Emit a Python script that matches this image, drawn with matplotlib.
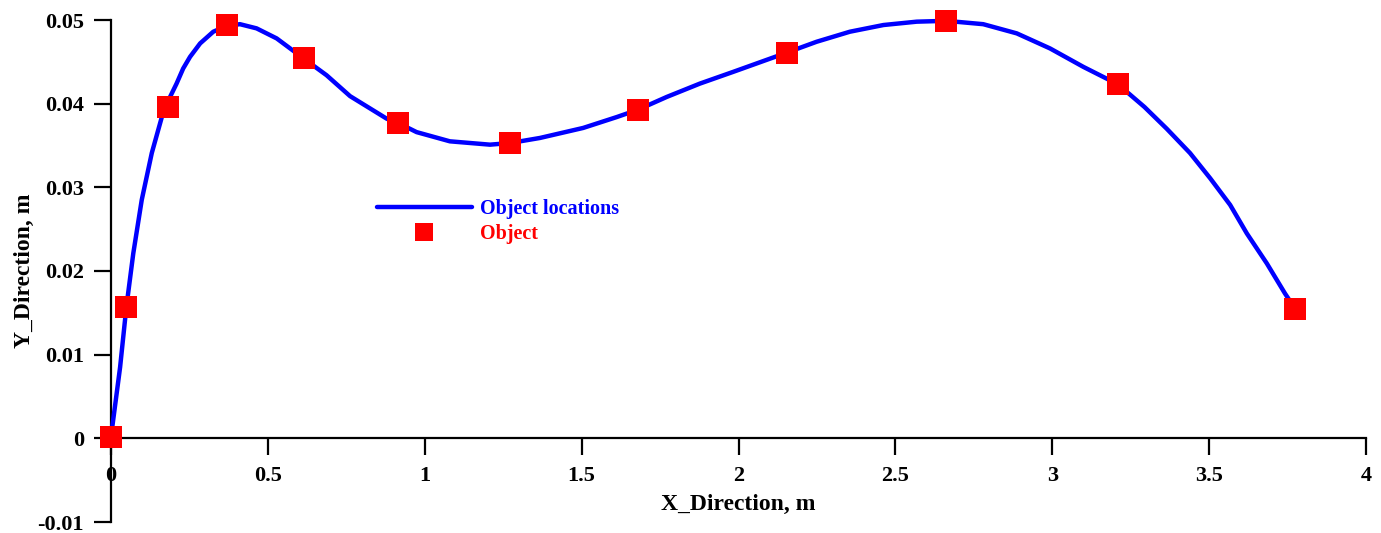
import matplotlib
matplotlib.use("Agg")
import matplotlib.pyplot as plt

# Object positions (markers)
obj_x = [0.0, 0.049, 0.183, 0.370, 0.614, 0.915, 1.273, 1.681, 2.154, 2.662, 3.210, 3.774]
obj_y = [0.0002, 0.0157, 0.0396, 0.0494, 0.0454, 0.0377, 0.0353, 0.0393, 0.0461, 0.0499, 0.0423, 0.0155]

# Path of object locations (curve)
path_x = [0.000, 0.029, 0.049, 0.071, 0.098, 0.130, 0.162, 0.183, 0.209, 0.230, 0.252, 0.284,
          0.326, 0.369, 0.411, 0.464, 0.528, 0.614, 0.687, 0.762, 0.879, 0.915, 0.974, 1.080,
          1.208, 1.273, 1.367, 1.505, 1.612, 1.681, 1.771, 1.877, 1.983, 2.154, 2.249,
          2.355, 2.462, 2.568, 2.662, 2.780, 2.887, 2.993, 3.099, 3.210, 3.294, 3.365,
          3.439, 3.503, 3.567, 3.620, 3.684, 3.742, 3.774]
path_y = [0.0002, 0.0085, 0.0157, 0.0221, 0.0285, 0.0341, 0.0384, 0.0404, 0.0424, 0.0442, 0.0456, 0.0472,
          0.0486, 0.0493, 0.0495, 0.0490, 0.0478, 0.0454, 0.0434, 0.0409, 0.0382, 0.0377, 0.0366, 0.0355,
          0.0351, 0.0353, 0.0359, 0.0371, 0.0384, 0.0393, 0.0408, 0.0424, 0.0438, 0.0461, 0.0474,
          0.0486, 0.0494, 0.0498, 0.0499, 0.0495, 0.0484, 0.0466, 0.0444, 0.0423, 0.0396, 0.0370,
          0.0341, 0.0311, 0.0279, 0.0245, 0.0209, 0.0173, 0.0155]

x_ticks = [0, 0.5, 1, 1.5, 2, 2.5, 3, 3.5, 4]
x_tick_labels = ["0", "0.5", "1", "1.5", "2", "2.5", "3", "3.5", "4"]
y_ticks = [-0.01, 0, 0.01, 0.02, 0.03, 0.04, 0.05]
y_tick_labels = ["-0.01", "0", "0.01", "0.02", "0.03", "0.04", "0.05"]

plt.rcParams['font.family'] = ['Liberation Serif', 'DejaVu Serif']
plt.rcParams['font.weight'] = 'bold'

fig = plt.figure(figsize=(13.81, 5.33), dpi=100)
ax = fig.add_axes([111/1381, 11/533, (1366-111)/1381, (522-20)/533])

ax.plot(path_x, path_y, color='#0000ff', lw=3.2, label='Object locations', zorder=3,
        clip_on=False, solid_joinstyle='round', solid_capstyle='round')
ax.plot(obj_x, obj_y, linestyle='none', marker='s', color='#ff0000', markersize=15.5,
        markeredgewidth=0, label='Object', zorder=4, clip_on=False)

ax.set_xlim(0, 4)
ax.set_ylim(-0.01, 0.05)
ax.spines['top'].set_visible(False)
ax.spines['right'].set_visible(False)
ax.spines['bottom'].set_position(('data', 0))
for s in ('left', 'bottom'):
    ax.spines[s].set_linewidth(1.6)
ax.set_xticks(x_ticks)
ax.set_xticklabels(x_tick_labels)
ax.set_yticks(y_ticks)
ax.set_yticklabels(y_tick_labels)
ax.tick_params(axis='both', direction='out', length=12.5, width=1.6, labelsize=16)
ax.tick_params(axis='x', pad=7.5)
ax.tick_params(axis='y', pad=7)
for lab in ax.get_xticklabels() + ax.get_yticklabels():
    lab.set_fontweight('bold')

ax.set_xlabel('X_Direction, m', fontsize=17, fontweight='bold', labelpad=6)
ax.set_ylabel('Y_Direction, m', fontsize=17, fontweight='bold', labelpad=2)

leg = ax.legend(loc='upper left', bbox_to_anchor=(0.212, 0.644), frameon=False,
                borderpad=0, borderaxespad=0, handlelength=4.7, handletextpad=0.4,
                labelspacing=0.25, numpoints=1, markerscale=0.88,
                prop={'family': 'Liberation Serif', 'weight': 'bold', 'size': 14.5},
                labelcolor='linecolor')

fig.savefig('out.png', dpi=100)
